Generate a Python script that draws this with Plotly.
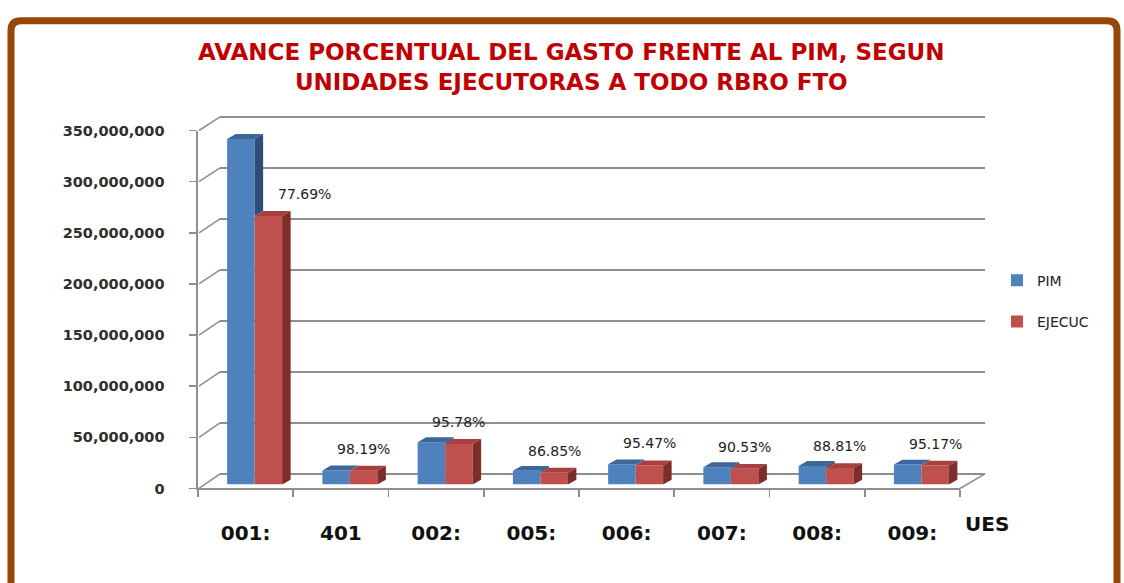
import plotly.graph_objects as go

# ---------------- data ----------------
categories = ["001:", "401", "002:", "005:", "006:", "007:", "008:", "009:"]
pim = [338.5e6, 13.8e6, 41.5e6, 13.4e6, 19.8e6, 17.0e6, 18.2e6, 19.6e6]
ejecuc = [263.0e6, 13.55e6, 39.75e6, 11.64e6, 18.9e6, 15.39e6, 16.16e6, 18.65e6]
pct_labels = ["77.69%", "98.19%", "95.78%", "86.85%", "95.47%", "90.53%", "88.81%", "95.17%"]
y_ticks = [0, 50e6, 100e6, 150e6, 200e6, 250e6, 300e6, 350e6]
y_ticktext = ["0", "50,000,000", "100,000,000", "150,000,000", "200,000,000",
              "250,000,000", "300,000,000", "350,000,000"]
series_names = ["PIM", "EJECUC"]
title_lines = ["AVANCE PORCENTUAL DEL GASTO FRENTE AL PIM, SEGUN",
               "UNIDADES EJECUTORAS A TODO RBRO FTO"]
x_title = "UES"

# ---------------- geometry (pixels) ----------------
W, H = 1124, 583
YMAX = 350e6


def px(x):
    return x / W


def py(y):
    return 1 - y / H


# back wall plane
BACK_X0, BACK_X1 = 220, 985
BACK_Y0, BACK_YTOP = 479, 112
back_scale = (BACK_Y0 - BACK_YTOP) / YMAX
back_range = [-2e6, 352e6]
back_dom = [py(BACK_Y0 - back_range[0] * back_scale), py(BACK_Y0 - back_range[1] * back_scale)]

# front plane (axis)
FR_X0, FR_X1 = 198, 960
FR_Y0, FR_YTOP = 494, 126

# bar plane
BAR_SHIFT = 9
BAR_Y0 = 490
bar_scale = 1.05 / 1e6  # px per unit
BAR_X0, BAR_X1 = FR_X0 + BAR_SHIFT, FR_X1 + BAR_SHIFT
bar_dom_y = [py(BAR_Y0), py(BAR_Y0 - YMAX * bar_scale)]

n = len(categories)
cat_px = (BAR_X1 - BAR_X0) / n
bargap = 1 - 55 / cat_px
w = (1 - bargap) / 2
dx = 8.5 / cat_px
dy = 5 / bar_scale

PIM_COL, PIM_TOP, PIM_SIDE = "#4F81BD", "#3D6699", "#2E4E77"
EJ_COL, EJ_TOP, EJ_SIDE = "#C0504D", "#A8413E", "#7E2D2B"
GRID = "#8E8E8E"

fig = go.Figure()

# back wall gridlines (subplot xy)
fig.add_trace(go.Scatter(x=[0, 1], y=[0, 0], mode="markers", marker=dict(opacity=0),
                         showlegend=False, hoverinfo="skip", xaxis="x", yaxis="y"))
# front axes (subplot x2y2)
fig.add_trace(go.Scatter(x=categories, y=[0] * n, mode="markers", marker=dict(opacity=0),
                         showlegend=False, hoverinfo="skip", xaxis="x2", yaxis="y2"))
# bars (subplot x3y3)
xs = list(range(n))
fig.add_trace(go.Bar(x=xs, y=pim, name=series_names[0], marker=dict(color=PIM_COL, line=dict(width=0)),
                     xaxis="x3", yaxis="y3", legendgroup="a"))
fig.add_trace(go.Bar(x=xs, y=ejecuc, name=series_names[1], marker=dict(color=EJ_COL, line=dict(width=0)),
                     xaxis="x3", yaxis="y3", legendgroup="b"))

shapes = []


def poly(pts, color):
    d = "M " + " L ".join(f"{x},{y}" for x, y in pts) + " Z"
    return dict(type="path", path=d, xref="x3", yref="y3", fillcolor=color,
                line=dict(width=0), layer="above")


for i in range(n):
    p, e = pim[i], ejecuc[i]
    pl, pr = i - w, i
    el, er = i, i + w
    shapes.append(poly([(pl, p), (pl + dx, p + dy), (pr + dx, p + dy), (pr, p)], PIM_TOP))
    if p > e:
        shapes.append(poly([(pr, p), (pr + dx, p + dy), (pr + dx, e + dy), (pr, e)], PIM_SIDE))
    shapes.append(poly([(el, e), (el + dx, e + dy), (er + dx, e + dy), (er, e)], EJ_TOP))
    shapes.append(poly([(er, 0), (er + dx, dy), (er + dx, e + dy), (er, e)], EJ_SIDE))


def front_y(v):
    return FR_Y0 - v * (FR_Y0 - FR_YTOP) / YMAX


def back_y(v):
    return BACK_Y0 - v * back_scale


for v in y_ticks:
    shapes.append(dict(type="line", xref="paper", yref="paper",
                       x0=px(FR_X0 + 1), y0=py(front_y(v)), x1=px(BACK_X0), y1=py(back_y(v)),
                       line=dict(color=GRID, width=1.6), layer="below"))
shapes.append(dict(type="line", xref="paper", yref="paper",
                   x0=px(FR_X1), y0=py(front_y(0)), x1=px(BACK_X1), y1=py(back_y(0)),
                   line=dict(color=GRID, width=1.6), layer="below"))

# frame border
bx0, bx1, by0, by1, r = 11, 1117, 13, 640, 10
border = (f"M {px(bx0)},{py(by1)} L {px(bx0)},{py(by0 + r)} "
          f"Q {px(bx0)},{py(by0)} {px(bx0 + r)},{py(by0)} "
          f"L {px(bx1 - r)},{py(by0)} Q {px(bx1)},{py(by0)} {px(bx1)},{py(by0 + r)} "
          f"L {px(bx1)},{py(by1)}")
shapes.append(dict(type="path", path=border, xref="paper", yref="paper",
                   line=dict(color="#974806", width=7), layer="above"))

annotations = []
for i in range(n):
    annotations.append(dict(x=i + w / 2, y=ejecuc[i], xref="x3", yref="y3", text=pct_labels[i],
                            showarrow=False, yshift=22, xshift=36 if i == 0 else 0,
                            yanchor="middle", xanchor="center",
                            font=dict(family="DejaVu Sans", size=14, color="#1E1E1E")))
annotations.append(dict(x=px(987), y=py(531), xref="paper", yref="paper", text=x_title,
                        showarrow=False, xanchor="center", yanchor="middle",
                        font=dict(family="DejaVu Sans", size=20, color="#111111", weight="bold")))
annotations.append(dict(x=px(571), y=py(61), xref="paper", yref="paper",
                        text="<br>".join(title_lines), showarrow=False,
                        xanchor="center", yanchor="middle", align="center",
                        font=dict(family="DejaVu Sans", size=23, color="#C00000", weight="bold")))

fig.update_layout(
    width=W, height=H,
    margin=dict(l=0, r=0, t=0, b=0),
    paper_bgcolor="white", plot_bgcolor="rgba(0,0,0,0)",
    barmode="group", bargap=bargap, bargroupgap=0,
    showlegend=True,
    legend=dict(x=px(997), y=py(264), xanchor="left", yanchor="top",
                font=dict(family="DejaVu Sans", size=14, color="#222222"),
                tracegroupgap=20, bgcolor="rgba(0,0,0,0)", itemwidth=30),
    xaxis=dict(domain=[px(BACK_X0), px(BACK_X1)], range=[0, 1], visible=False),
    yaxis=dict(domain=back_dom, range=back_range, tickvals=y_ticks, showgrid=True,
               gridcolor=GRID, gridwidth=1.6, zeroline=False, showticklabels=False,
               ticks="", showline=False),
    xaxis2=dict(domain=[px(FR_X0), px(FR_X1)], anchor="y2", type="category",
                categoryorder="array", categoryarray=categories, range=[-0.5, n - 0.5],
                tickson="boundaries", ticks="outside", ticklen=7, tickcolor=GRID, tickwidth=1.6,
                showline=True, linecolor=GRID, linewidth=1.6, showgrid=False, zeroline=False,
                tickfont=dict(family="DejaVu Sans", size=20, color="#111111", weight="bold"),
                ticklabelstandoff=26),
    yaxis2=dict(domain=[py(FR_Y0), py(FR_YTOP)], anchor="x2", range=[0, YMAX],
                tickvals=y_ticks, ticktext=y_ticktext, ticks="outside", ticklen=7,
                tickcolor=GRID, tickwidth=1.6, showline=True, linecolor=GRID, linewidth=1.6,
                showgrid=False, zeroline=False, ticklabelstandoff=22,
                tickfont=dict(family="DejaVu Sans", size=14.5, color="#2E2E2E", weight="bold")),
    xaxis3=dict(domain=[px(BAR_X0), px(BAR_X1)], anchor="y3", range=[-0.5, n - 0.5], visible=False),
    yaxis3=dict(domain=bar_dom_y, anchor="x3", range=[0, YMAX], visible=False),
    shapes=shapes,
    annotations=annotations,
)

fig.write_html(
    "out.html",
    config={"displayModeBar": False, "staticPlot": True},
    post_script=(
        "document.documentElement.style.margin='0';document.documentElement.style.padding='0';"
        "document.documentElement.style.overflow='hidden';"
        "document.body.style.margin='0';document.body.style.padding='0';"
        "document.body.style.overflow='hidden';"
        "var gd=document.getElementById('{plot_id}');gd.style.position='fixed';"
        "gd.style.top='0px';gd.style.left='0px';"
    ),
)
